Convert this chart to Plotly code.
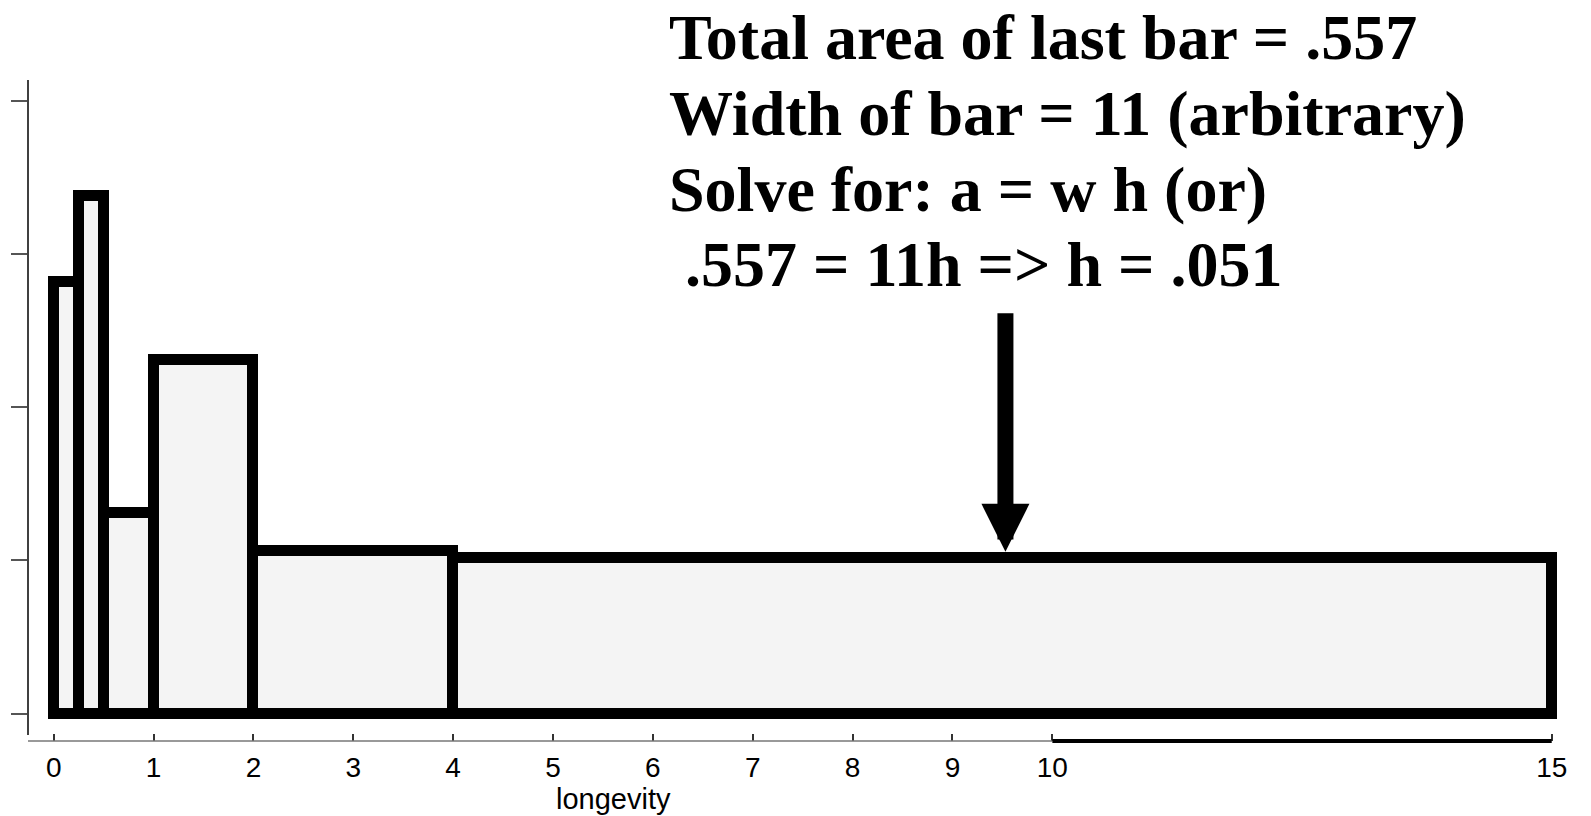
import plotly.graph_objects as go

# ---- data ----
bin_edges = [0, 0.25, 0.5, 1, 2, 4, 15]
densities = [0.1407, 0.1688, 0.0656, 0.1155, 0.0531, 0.0508]
x_tickvals = [0, 1, 2, 3, 4, 5, 6, 7, 8, 9, 10, 15]
x_ticktext = ["0", "1", "2", "3", "4", "5", "6", "7", "8", "9", "10", "15"]
y_tickvals = [0, 0.05, 0.10, 0.15, 0.20]
text_lines = [
    "Total area of last bar = .557",
    "Width of bar = 11 (arbitrary)",
    "Solve for: a = w h (or)",
    ".557 = 11h => h = .051",
]
arrow_x = 9.53
arrow_tip_y = 0.0528
arrow_tail_y = 0.1311

centers = [(a + b) / 2 for a, b in zip(bin_edges[:-1], bin_edges[1:])]
widths = [b - a for a, b in zip(bin_edges[:-1], bin_edges[1:])]

X0, X1 = -0.257, 15.103
Y0, Y1 = -0.00891, 0.20675

fig = go.Figure()
fig.add_trace(go.Bar(
    x=centers, y=densities, width=widths,
    marker=dict(color="#f4f4f4", line=dict(color="black", width=11)),
    showlegend=False, hoverinfo="skip",
))

annotations = []
line_y = [1.0641, 0.949, 0.834, 0.7206]
line_x = [0.4167, 0.4167, 0.4167, 0.4271]
for t, xx, yy in zip(text_lines, line_x, line_y):
    annotations.append(dict(
        text=t, xref="paper", yref="paper", x=xx, y=yy,
        xanchor="left", yanchor="middle", showarrow=False,
        font=dict(family="Liberation Serif", size=64, color="black", weight="bold"),
    ))
annotations.append(dict(
    text="longevity", xref="paper", yref="paper",
    x=(612 - 26) / 1536, y=-0.0875, xanchor="center", yanchor="middle",
    showarrow=False, font=dict(family="Liberation Sans", size=29, color="black"),
))
annotations.append(dict(
    text="", x=arrow_x, y=arrow_tip_y, ax=arrow_x, ay=arrow_tail_y,
    xref="x", yref="y", axref="x", ayref="y",
    showarrow=True, arrowhead=2, arrowwidth=16, arrowsize=0.6,
    arrowcolor="black", standoff=0, startstandoff=0,
))

shapes = [
    dict(type="line", xref="x", yref="paper", x0=X0, x1=10, y0=0, y1=0,
         line=dict(color="#777777", width=1.6)),
    dict(type="line", xref="x", yref="paper", x0=10, x1=15, y0=0, y1=0,
         line=dict(color="black", width=4)),
    dict(type="line", xref="paper", yref="paper", x0=0, x1=0, y0=6 / 661, y1=1,
         line=dict(color="black", width=1.5)),
]

fig.update_layout(
    width=1591, height=816,
    margin=dict(l=26, r=29, t=80, b=75),
    paper_bgcolor="white", plot_bgcolor="white",
    bargap=0,
    xaxis=dict(range=[X0, X1], tickvals=x_tickvals, ticktext=x_ticktext,
               ticks="inside", ticklen=7, tickwidth=1.5, tickcolor="#333333",
               ticklabelstandoff=7,
               showline=False, showgrid=False, zeroline=False,
               tickfont=dict(family="Liberation Sans", size=28, color="black")),
    xaxis2=dict(range=[X0, X1], overlaying="x", anchor="y", side="bottom",
                tickvals=x_tickvals, ticks="outside", ticklen=7, tickwidth=1.5,
                tickcolor="#333333", showticklabels=False, showline=False,
                showgrid=False, zeroline=False),
    yaxis=dict(range=[Y0, Y1], tickvals=y_tickvals, ticks="outside", ticklen=16,
               tickwidth=1.5, tickcolor="#555555", showticklabels=False,
               showline=False, showgrid=False, zeroline=False),
    annotations=annotations,
    shapes=shapes,
)

fig.write_html(
    "out.html",
    config={"displayModeBar": False},
    post_script="document.body.style.margin='0';document.body.style.overflow='hidden';",
)
